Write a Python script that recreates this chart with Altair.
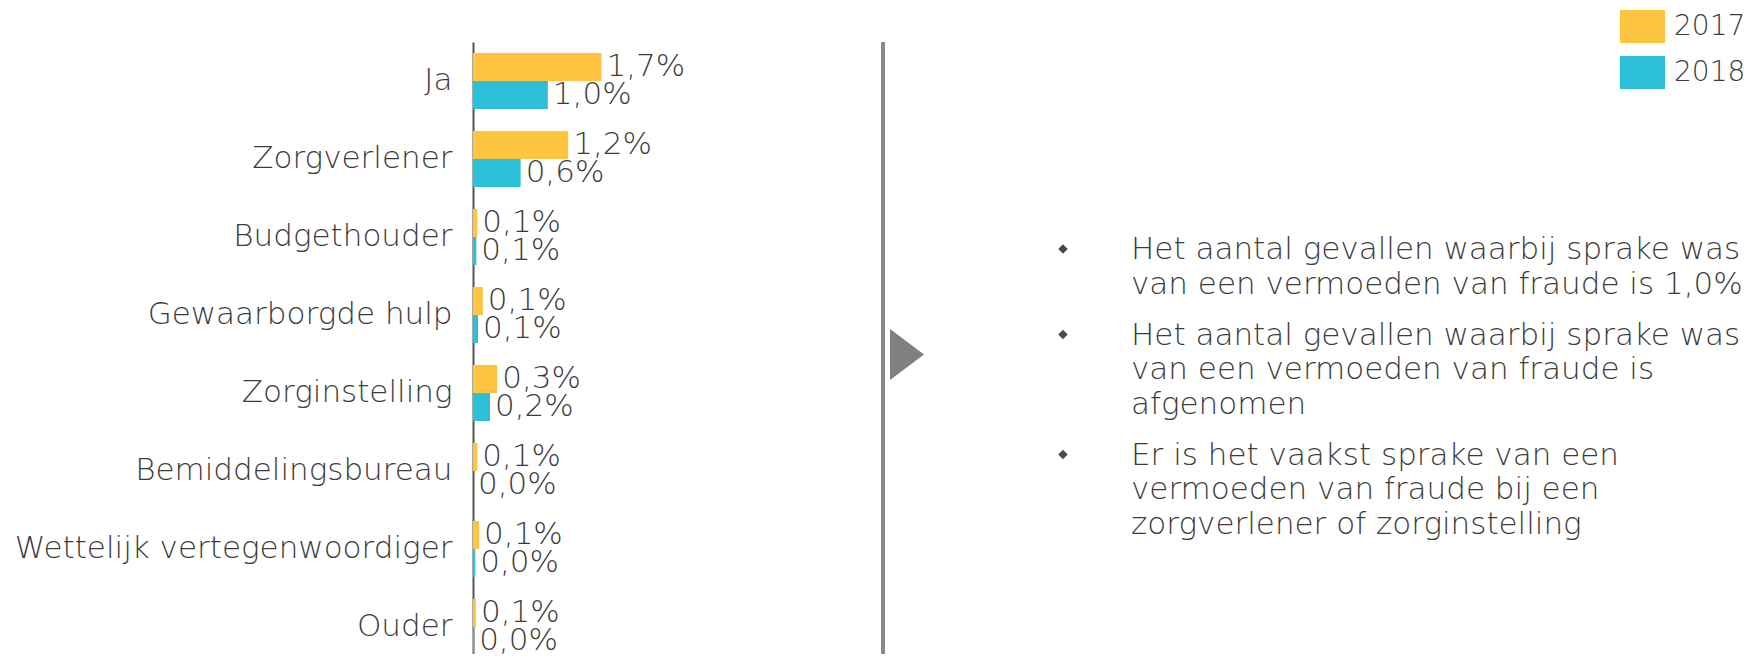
import altair as alt
import pandas as pd

categories = ["Ja", "Zorgverlener", "Budgethouder", "Gewaarborgde hulp",
              "Zorginstelling", "Bemiddelingsbureau",
              "Wettelijk vertegenwoordiger", "Ouder"]
years = ["2017", "2018"]
values_2017 = [1.70, 1.26, 0.057, 0.13, 0.32, 0.057, 0.08, 0.04]
values_2018 = [0.99, 0.63, 0.044, 0.066, 0.225, 0.0, 0.03, 0.015]
labels_2017 = ["1,7%", "1,2%", "0,1%", "0,1%", "0,3%", "0,1%", "0,1%", "0,1%"]
labels_2018 = ["1,0%", "0,6%", "0,1%", "0,1%", "0,2%", "0,0%", "0,0%", "0,0%"]
colors = ["#FFC540", "#2BBFD8"]

bullets = [
    ["Het aantal gevallen waarbij sprake was",
     "van een vermoeden van fraude is 1,0%"],
    ["Het aantal gevallen waarbij sprake was",
     "van een vermoeden van fraude is",
     "afgenomen"],
    ["Er is het vaakst sprake van een",
     "vermoeden van fraude bij een",
     "zorgverlener of zorginstelling"],
]

FONT = "DejaVu Sans"
FW = 200
TXT = "#3c3c3c"
FS = 31

rows = []
for i, c in enumerate(categories):
    rows.append({"category": c, "year": "2017", "value": values_2017[i], "label": labels_2017[i]})
    rows.append({"category": c, "year": "2018", "value": values_2018[i], "label": labels_2018[i]})
df = pd.DataFrame(rows)

W = 1273
PX_PER_PCT = 75.6
H = 612

yscale = alt.Scale(domain=categories, range=[0, 624], paddingInner=0.282, paddingOuter=0.141)
xscale = alt.Scale(domain=[0, W / PX_PER_PCT], nice=False, zero=True)
yoff = alt.YOffset("year:N", sort=years, scale=alt.Scale(paddingInner=0, paddingOuter=0))

base = alt.Chart(df)

bars = base.mark_bar(cornerRadius=0).encode(
    x=alt.X("value:Q", scale=xscale, axis=None),
    y=alt.Y("category:N", sort=categories, scale=yscale,
            axis=alt.Axis(title=None, ticks=False, grid=False, labelFont=FONT,
                          labelFontWeight=FW, labelFontSize=FS, labelColor=TXT,
                          labelPadding=21, labelLimit=0, domainColor="#555555",
                          domainWidth=2)),
    yOffset=yoff,
    color=alt.Color("year:N", sort=years,
                    scale=alt.Scale(domain=years, range=colors),
                    legend=alt.Legend(title=None, orient="none", legendX=1153, legendY=-32,
                                      padding=0, symbolType="M-1.364,-1H1.364V1H-1.364Z",
                                      symbolSize=1089, symbolStrokeWidth=0, symbolOpacity=1,
                                      labelFont=FONT, labelFontWeight=FW, labelFontSize=28,
                                      labelColor=TXT, labelOffset=15, rowPadding=13)),
)

labels = base.mark_text(align="left", baseline="middle", dx=5, font=FONT,
                        fontWeight=FW, fontSize=FS, color=TXT).encode(
    x=alt.X("value:Q", scale=xscale, axis=None),
    y=alt.Y("category:N", sort=categories, scale=yscale),
    yOffset=yoff,
    text="label:N",
)

one = pd.DataFrame({"a": [0]})

divider = alt.Chart(one).mark_rect(color="#8a8a8a").encode(
    x=alt.value(408), x2=alt.value(412), y=alt.value(0), y2=alt.value(624))

triangle = alt.Chart(one).mark_point(shape="M-1,-1.5L1,0L-1,1.5Z", filled=True,
                                     color="#808080", opacity=1, size=1156).encode(
    x=alt.value(434), y=alt.value(312.5))

# bullet text table
line_rows = []
dot_rows = []
y = 208.0
LH = 34.5
GAP = 16.5
for p, para in enumerate(bullets):
    dot_rows.append({"py": y - 1})
    for ln in para:
        line_rows.append({"t": ln, "py": y})
        y += LH
    y += GAP
lines_df = pd.DataFrame(line_rows)
dots_df = pd.DataFrame(dot_rows)

dots = alt.Chart(dots_df).mark_point(shape="diamond", filled=True, color="#4a4a4a",
                                     opacity=1, size=90).encode(
    x=alt.value(590), y=alt.Y("py:Q", scale=None, axis=None))

text_lines = alt.Chart(lines_df).mark_text(align="left", baseline="middle", font=FONT,
                                           fontWeight=FW, fontSize=FS, color=TXT).encode(
    x=alt.value(658), y=alt.Y("py:Q", scale=None, axis=None), text="t:N")

chart = alt.layer(bars, labels, divider, triangle, dots, text_lines).properties(
    width=W, height=H,
    background="white",
    autosize=alt.AutoSizeParams(type="none"),
    padding={"left": 465, "top": 34, "right": 0, "bottom": 0},
).configure_view(strokeWidth=0, stroke="transparent")

chart.save("out.html", embed_options={"renderer": "svg", "actions": False})
